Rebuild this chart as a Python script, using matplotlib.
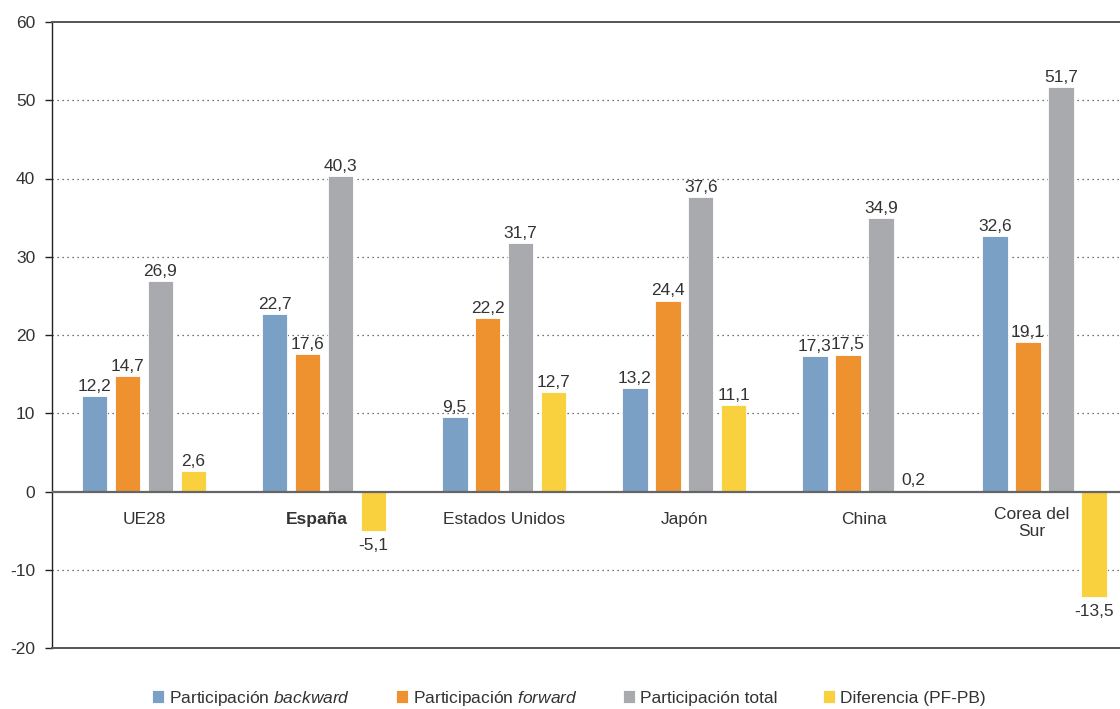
import numpy as np
import matplotlib
matplotlib.use("Agg")
from matplotlib import pyplot as plt

plt.rcParams['font.family'] = ['Liberation Sans', 'DejaVu Sans']
plt.rcParams['mathtext.fontset'] = 'custom'
plt.rcParams['mathtext.it'] = 'Liberation Sans:italic'
plt.rcParams['mathtext.rm'] = 'Liberation Sans'

paises = ['UE28', 'España', 'Estados Unidos', 'Japón', 'China', 'Corea del\nSur']
backward = [12.2, 22.7, 9.5, 13.2, 17.3, 32.6]
forward = [14.7, 17.6, 22.2, 24.4, 17.5, 19.1]
total = [26.9, 40.3, 31.7, 37.6, 34.9, 51.7]
diferencia = [2.6, -5.1, 12.7, 11.1, 0.2, -13.5]

series = [
    (backward, 'Participación $\\it{backward}$', '#7aa0c5'),
    (forward, 'Participación $\\it{forward}$', '#ee912f'),
    (total, 'Participación total', '#a9aaae'),
    (diferencia, 'Diferencia (PF-PB)', '#f9d03d'),
]

txt = '#333333'
fs = 12.5
fig = plt.figure(figsize=(11.2, 7.09), dpi=100)
ax = fig.add_axes([52 / 1120, 61 / 709, 1068 / 1120, 626 / 709])

x = np.arange(len(paises))
pitch = 0.183
width = 0.142
for k, (vals, label, color) in enumerate(series):
    pos = x + (k - 1.5) * pitch
    ax.bar(pos, vals, width, color=color, edgecolor='white', linewidth=0.6,
           label=label, zorder=3)
    for xp, v in zip(pos, vals):
        s = f"{v:.1f}".replace('.', ',')
        if v >= 0:
            ax.annotate(s, (xp, v), xytext=(0, 1.5), textcoords='offset points',
                        ha='center', va='bottom', fontsize=fs, color=txt, zorder=4)
        else:
            ax.annotate(s, (xp, v), xytext=(0, -5), textcoords='offset points',
                        ha='center', va='top', fontsize=fs, color=txt, zorder=4)

# country names under the zero line
shift = [0, -0.04, 0, 0, 0, -0.07]
drop = [-20, -20, -20, -20, -20, -22.5]
for i, name in enumerate(paises):
    ax.annotate(name, (x[i] + shift[i], 0), xytext=(0, drop[i]), textcoords='offset points',
                ha='center', va='center', fontsize=fs, color=txt,
                fontweight='bold' if name == 'España' else 'normal',
                linespacing=1.15)

ax.set_xlim(-0.511, 5.42)
ax.set_ylim(-20, 60)
ax.set_yticks(np.arange(-20, 61, 10))
ax.set_yticklabels([str(t) for t in range(-20, 61, 10)])
ax.set_xticks([])
for y in [-10, 10, 20, 30, 40, 50]:
    ax.axhline(y, color='#444444', lw=0.9, ls=(0, (1, 3)), zorder=1)
ax.axhline(0, color='#666666', lw=1.6, zorder=4)

ax.spines['right'].set_visible(False)
ax.spines['top'].set_color('#555555')
ax.spines['top'].set_linewidth(1.4)
ax.spines['bottom'].set_color('#555555')
ax.spines['bottom'].set_linewidth(1.4)
ax.spines['left'].set_color('#222222')
ax.spines['left'].set_linewidth(1.0)
ax.tick_params(axis='y', length=5, width=1, color='#222222', labelsize=fs,
               labelcolor=txt, pad=7)

fig.legend(loc='lower center', bbox_to_anchor=(0.508, -0.02), ncol=4, frameon=False,
           fontsize=fs, handlelength=0.7, handleheight=0.7, handletextpad=0.3,
           columnspacing=2.6, labelcolor=txt)

fig.savefig('out.png', dpi=100)
